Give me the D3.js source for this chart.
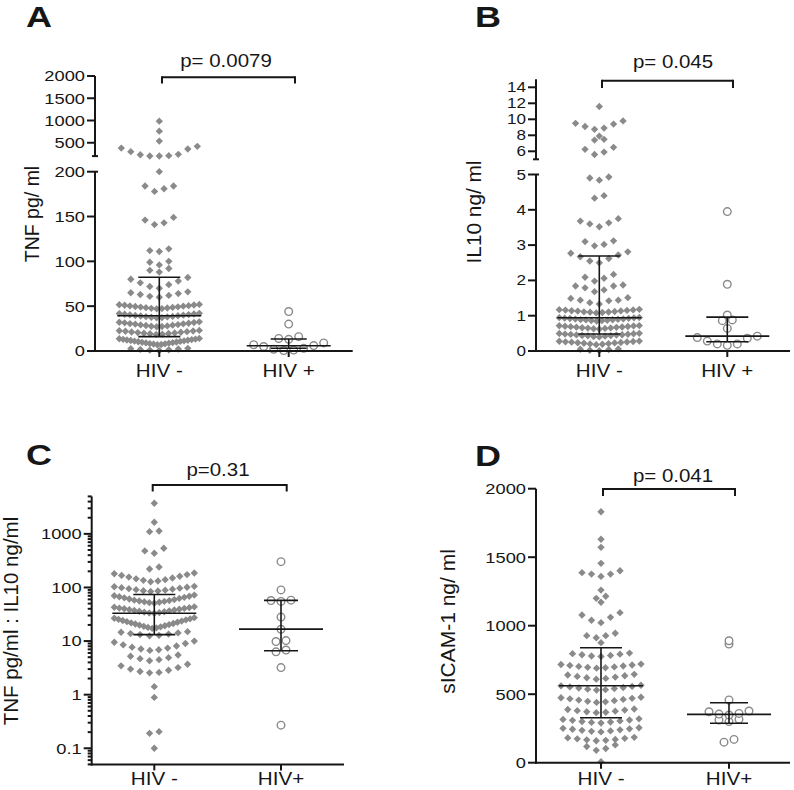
<!DOCTYPE html>
<html><head><meta charset="utf-8">
<script src="https://cdn.jsdelivr.net/npm/d3@7"></script>
<style>body{margin:0;background:#fff}svg{display:block}text{font-family:"Liberation Sans",Arial,sans-serif}</style>
</head><body><svg id="c" width="794" height="790"></svg>
<script>
// ---------------- DATA ----------------
const groupsAB = ["HIV -", "HIV +"];
const groupsCD = ["HIV -", "HIV+"];
const panelLetters = ["A", "B", "C", "D"];
const pLabels = ["p= 0.0079", "p= 0.045", "p=0.31", "p= 0.041"];
const yTitles = ["TNF pg/ ml", "IL10 ng/ ml", "TNF pg/ml : IL10 ng/ml", "sICAM-1 ng/ ml"];

const tnfNeg = [985, 760, 537, 420, 380, 360, 299, 240, 231, 209, 202, 202,
  200, 184, 184, 181, 178, 149, 146, 143, 141, 114, 112, 111, 100, 99, 96, 92, 90, 88,
  82, 80, 78, 76, 74, 72, 70, 66, 65, 64, 63, 62, 61, 60,
  52, 51.6, 51.3, 51, 50.6, 50.3, 50, 49.6, 49.3, 49, 48.6, 48.3, 48, 47.6, 47.3, 47,
  42, 41.7, 41.3, 41, 40.6, 40.3, 40, 39.6, 39.3, 39, 38.6, 38.3, 38, 37.6, 37.3, 37,
  32.5, 32.1, 31.8, 31.4, 31, 30.6, 30.3, 29.9, 29.5, 29.1, 28.8, 28.4, 28, 27.6, 27.3, 27,
  23, 22.6, 22.3, 22, 21.6, 21.2, 20.9, 20.5, 20.2, 19.9, 19.5, 19.2, 18.8, 18.5,
  14, 13.7, 13.3, 13, 12.7, 12.3, 12, 11.7, 11.3, 11, 10.7, 10.3, 10, 9.7, 9.3, 9, 8.7, 8.3, 8, 7.7, 7.3, 7,
  3, 2.6, 2.2, 1.8, 1.4, 1, 0.5];
const tnfPos = [44, 30, 16, 14, 13, 9, 7, 6, 5, 3, 2, 1, 0.5];
const tnfNegIQR = [16, 39.4, 82.3];   // q1, median, q3
const tnfPosIQR = [3, 5.9, 13.4];
const tnfTicksLow = [0, 50, 100, 150, 200];
const tnfTicksHigh = [500, 1000, 1500, 2000];

const il10Neg = [11.6, 9.8, 9.5, 9.4, 9.1, 8.9, 8.75, 7.9, 7.5, 7.4, 6.5, 6.25, 5.9, 5.6,
  4.93, 4.9, 4.84, 4.40, 4.33, 3.75, 3.68, 3.63, 3.6, 3.52, 3.12, 3.1, 3.02, 2.98,
  2.81, 2.77, 2.72, 2.67, 2.62, 2.55, 2.5, 2.17, 2.09, 2.06, 1.98,
  1.87, 1.84, 1.84, 1.79, 1.73, 1.68, 1.51, 1.49, 1.44, 1.44, 1.42, 1.37, 1.33,
  1.18, 1.17, 1.165, 1.16, 1.15, 1.14, 1.135, 1.13, 1.12, 1.11, 1.105, 1.1, 1.09, 1.08,
  0.95, 0.945, 0.94, 0.93, 0.925, 0.92, 0.91, 0.905, 0.9, 0.89, 0.885, 0.88, 0.87, 0.865, 0.86, 0.85,
  0.72, 0.715, 0.71, 0.70, 0.695, 0.69, 0.68, 0.675, 0.67, 0.66, 0.655, 0.65, 0.64, 0.63, 0.62,
  0.50, 0.495, 0.49, 0.48, 0.475, 0.47, 0.46, 0.455, 0.45, 0.44, 0.435, 0.43, 0.42, 0.41, 0.40,
  0.28, 0.275, 0.27, 0.26, 0.255, 0.25, 0.24, 0.235, 0.23, 0.22, 0.21, 0.2, 0.19, 0.18,
  0.06, 0.05, 0.04, 0.02, 0.01];
const il10Pos = [3.95, 1.89, 1.02, 0.88, 0.86, 0.64, 0.42, 0.38, 0.36, 0.28, 0.2, 0.2, 0.16];
const il10NegIQR = [0.48, 0.94, 2.69];
const il10PosIQR = [0.26, 0.42, 0.96];
const il10TicksLow = [0, 1, 2, 3, 4, 5];
const il10TicksHigh = [6, 8, 10, 12, 14];

const ratioNeg = [3720, 1650, 1130, 1100, 540, 480, 435, 241, 221,
  186, 180, 174, 168, 162, 156, 150, 145, 140, 136, 132, 128,
  105, 103, 101, 99, 97, 95, 93, 91, 89, 87, 86, 84,
  72, 70, 68.5, 67, 65.5, 64, 62.5, 61, 59.5, 58, 57, 56, 55, 54, 53, 52, 51,
  43.5, 42.8, 42, 41.3, 40.6, 40, 39.3, 38.6, 38, 37.3, 36.6, 36, 35.3, 34.6, 34, 33.5, 33,
  27.3, 26.6, 26, 25.4, 24.8, 24.2, 23.6, 23, 22.4, 21.8, 21.3, 20.8, 20.3, 19.8, 19.3, 18.8, 18.4, 18, 17.6, 17.3,
  15, 14.6, 14.2, 13.8, 13.5, 13.2, 12.8, 12.5,
  10, 9.5, 9, 8.5, 8.1, 7.7, 7.4, 7.1, 6.9, 6.7,
  5.5, 5.2, 4.9, 4.7, 4.5, 4.3,
  3.7, 3.45, 3.2, 3.0, 2.85, 2.7, 2.6, 2.55,
  1.41, 0.89, 0.204, 0.19, 0.1];
const ratioPos = [303, 90, 58, 57, 55, 28, 16.6, 10.2, 9.8, 6.8, 6.3, 3.2, 0.27];
const ratioNegIQR = [13.2, 33, 74];
const ratioPosIQR = [6.6, 16.7, 57.5];
const ratioTicks = [0.1, 1, 10, 100, 1000];
const ratioTickLabels = ["0.1", "1", "10", "100", "1000"];

const icamNeg = [1832, 1631, 1572, 1455, 1401, 1387, 1377, 1377, 1360, 1260, 1215, 1200, 1171,
  1095, 1078, 1061, 1040, 1022, 945, 927, 927, 912, 876,
  800, 796, 792, 788, 783, 779, 775,
  720, 717, 713, 710, 706, 703, 699, 696, 693, 690,
  645, 640, 635, 630, 625, 620, 615, 610,
  565, 561, 557, 553, 549, 545, 541, 537, 533, 530,
  478, 474, 470, 466, 462, 457, 453, 448, 444, 440,
  392, 388, 384, 380, 376, 372, 368, 365,
  320, 316, 312, 309, 305, 301, 297, 294, 290,
  255, 251, 247, 244, 240, 236, 232, 229, 225,
  185, 181, 178, 174, 170, 167, 163, 160,
  130, 118, 104, 90, 7];
const icamPos = [890, 866, 458, 377, 372, 360, 355, 348, 317, 312, 300, 170, 150];
const icamNegIQR = [328, 562, 839];
const icamPosIQR = [288, 353, 438];
const icamTicks = [0, 500, 1000, 1500, 2000];

// ---------------- HELPERS ----------------
const svg = d3.select("#c");
const INK = "#161616", GRAY = "#8a8a8a";

function brokenScale(lowDom, lowRange, upDom, upRange) {
  const lo = d3.scaleLinear().domain(lowDom).range(lowRange);
  const up = d3.scaleLinear().domain(upDom).range(upRange);
  const f = v => (v <= lowDom[1] ? lo(v) : up(v));
  f.lo = lo; f.up = up;
  return f;
}

function stext(x, y, str, o) {
  return svg.append("text")
    .attr("transform", `translate(${x},${y}) scale(${o.sx || 1},1)`)
    .attr("text-anchor", o.anchor || "start")
    .attr("font-size", o.size)
    .attr("font-weight", o.weight || "normal")
    .attr("fill", INK).text(str);
}
function line(x1, y1, x2, y2, w) {
  svg.append("line").attr("x1", x1).attr("y1", y1).attr("x2", x2).attr("y2", y2)
    .attr("stroke", INK).attr("stroke-width", w || 2).attr("stroke-linecap", "butt");
}

// Prism-like column scatter: bin points by pixel row, spread each row symmetrically
function swarm(values, yScale, cx, o) {
  const pts = values.map(v => ({ v, y: yScale(v) })).sort((a, b) => b.y - a.y);
  const bins = []; let cur = null;
  pts.forEach(p => {
    if (!cur || cur[cur.length - 1].y - p.y > o.gap || cur[0].y - p.y > o.maxSpan) { cur = [p]; bins.push(cur); }
    else cur.push(p);
  });
  bins.forEach(bin => {
    const n = bin.length;
    const step = n > 1 ? Math.min(o.step, 2 * o.halfW / (n - 1)) : 0;
    const offs = d3.range(n).map(i => (i - (n - 1) / 2) * step)
      .sort((a, b) => (Math.abs(a) - Math.abs(b)) || (a - b));
    bin.forEach((p, i) => { p.x = cx + offs[i]; });
  });
  return pts;
}

const diamond = { draw(ctx, size) { const r = Math.sqrt(size / 2); ctx.moveTo(0, -r); ctx.lineTo(r, 0); ctx.lineTo(0, r); ctx.lineTo(-r, 0); ctx.closePath(); } };

function drawPanel(P) {
  const y = P.scale;
  // points
  const neg = swarm(P.neg, y, P.cats[0], { gap: 3, maxSpan: 12, step: 9.5, halfW: 40 });
  svg.append("g").selectAll("path").data(neg).join("path")
    .attr("d", d3.symbol(diamond, 27)).attr("transform", d => `translate(${d.x},${d.y})`)
    .attr("fill", GRAY);
  const pos = swarm(P.pos, y, P.cats[1], { gap: 3, maxSpan: 12, step: 10, halfW: 40 });
  svg.append("g").selectAll("circle").data(pos).join("circle")
    .attr("cx", d => d.x).attr("cy", d => d.y).attr("r", 3.8)
    .attr("fill", "#fff").attr("stroke", GRAY).attr("stroke-width", 1.4);
  // median & IQR
  [[P.negIQR, P.cats[0], 21], [P.posIQR, P.cats[1], P.posCap]].forEach(([q, cx, cap]) => {
    line(cx - 42, y(q[1]), cx + 42, y(q[1]), 1.6);
    line(cx - cap, y(q[0]), cx + cap, y(q[0]), 1.6);
    line(cx - cap, y(q[2]), cx + cap, y(q[2]), 1.6);
    line(cx, y(q[0]), cx, y(q[2]), 1.6);
  });
  // x axis
  line(P.ax - 1, P.y0, P.xEnd, P.y0, 2);
  P.cats.forEach((cx, i) => {
    line(cx, P.y0, cx, P.y0 + 6, 2);
    stext(cx, P.catBase, P.groups[i], { size: P.catSize, sx: 1.18, anchor: "middle" });
  });
  // y axis
  const tick = (v, len, label) => {
    const yy = y(v);
    line(P.ax - len, yy, P.ax, yy, 2);
    if (label != null) stext(P.ax - 10, yy + P.tickSize * 0.36, label, { size: P.tickSize, sx: P.tickSx, anchor: "end" });
  };
  if (P.kind === "broken") {
    line(P.ax, y.lo.range()[0] + 1, P.ax, y.lo.range()[1], 2);
    line(P.ax, y.lo.range()[1], P.ax + 3, y.lo.range()[1], 2);
    line(P.ax, y.up.range()[0], P.ax, y.up.range()[1], 2);
    line(P.ax - 3, y.up.range()[0], P.ax + 3, y.up.range()[0], 2);
    P.ticksLow.forEach(v => tick(v, 8, String(v)));
    P.ticksHigh.forEach(v => tick(v, 8, String(v)));
  } else if (P.kind === "log") {
    const [d0, d1] = y.domain();
    line(P.ax, y(d0) + 1, P.ax, y(d1), 2);
    for (let e = -2; e <= 3; e++) for (let k = 2; k <= 9; k++) {
      const v = k * Math.pow(10, e);
      if (v >= d0 * 0.999 && v <= d1 * 1.001) tick(v, 4, null);
    }
    P.ticks.forEach((v, i) => tick(v, 8, P.tickLabels[i]));
  } else {
    const [d0, d1] = y.domain();
    line(P.ax, y(d0) + 1, P.ax, y(d1), 2);
    P.ticks.forEach(v => tick(v, 8, String(v)));
  }
  // y title
  svg.append("text").attr("transform", `translate(${P.titleX},${P.titleY}) rotate(-90)`)
    .attr("text-anchor", "middle").attr("font-size", P.titleSize).attr("fill", INK).text(P.title);
  // panel letter
  stext(P.letterX, P.letterY, P.letter, { size: 30, weight: "bold", sx: 1.2 });
  // p-value bracket
  const b = P.bracket;
  line(b[0], b[2], b[1], b[2], 2);
  line(b[0], b[2] - 1, b[0], b[3], 2);
  line(b[1], b[2] - 1, b[1], b[3], 2);
  stext(P.pX, P.pY, P.p, { size: 18.6, sx: 1.1, anchor: "middle" });
}

const panels = [
  { kind: "broken", neg: tnfNeg, pos: tnfPos, negIQR: tnfNegIQR, posIQR: tnfPosIQR, posCap: 18,
    scale: brokenScale([0, 200], [351, 171.7], [200, 2000], [156.1, 76]),
    ticksLow: tnfTicksLow, ticksHigh: tnfTicksHigh, tickSize: 15, tickSx: 1.22,
    ax: 95, xEnd: 352.7, y0: 351, cats: [159.3, 288.7], groups: groupsAB, catBase: 377, catSize: 17.5,
    title: yTitles[0], titleX: 39, titleY: 214, titleSize: 19.5,
    letter: panelLetters[0], letterX: 26, letterY: 27,
    bracket: [162, 295, 77.3, 83.5], p: pLabels[0], pX: 226, pY: 66.7 },
  { kind: "broken", neg: il10Neg, pos: il10Pos, negIQR: il10NegIQR, posIQR: il10PosIQR, posCap: 21,
    scale: brokenScale([0, 5], [351, 174.5], [5, 15], [159.3, 79.3]),
    ticksLow: il10TicksLow, ticksHigh: il10TicksHigh, tickSize: 14, tickSx: 1.22,
    ax: 536, xEnd: 790, y0: 351, cats: [599.3, 727.3], groups: groupsAB, catBase: 377, catSize: 17.5,
    title: yTitles[1], titleX: 481, titleY: 212, titleSize: 20.8,
    letter: panelLetters[1], letterX: 475, letterY: 27,
    bracket: [602, 733, 80.7, 88], p: pLabels[1], pX: 673, pY: 68.3 },
  { kind: "log", neg: ratioNeg, pos: ratioPos, negIQR: ratioNegIQR, posIQR: ratioPosIQR, posCap: 17,
    scale: d3.scaleLog().domain([0.05, 5000]).range([764.4, 496.4]),
    ticks: ratioTicks, tickLabels: ratioTickLabels, tickSize: 15, tickSx: 1.22,
    ax: 91.7, xEnd: 344, y0: 764.4, cats: [154.3, 281], groups: groupsCD, catBase: 785, catSize: 17.5,
    title: yTitles[2], titleX: 18, titleY: 621, titleSize: 20.5,
    letter: panelLetters[2], letterX: 26, letterY: 465,
    bracket: [152.7, 286.7, 485, 491.5], p: pLabels[2], pX: 218, pY: 475.7 },
  { kind: "linear", neg: icamNeg, pos: icamPos, negIQR: icamNegIQR, posIQR: icamPosIQR, posCap: 19,
    scale: d3.scaleLinear().domain([0, 2000]).range([762.7, 488.7]),
    ticks: icamTicks, tickSize: 15, tickSx: 1.22,
    ax: 536, xEnd: 790, y0: 762.7, cats: [601, 729], groups: groupsCD, catBase: 785, catSize: 17.5,
    title: yTitles[3], titleX: 455, titleY: 621.5, titleSize: 21,
    letter: panelLetters[3], letterX: 475, letterY: 466,
    bracket: [603, 735, 489, 496], p: pLabels[3], pX: 673, pY: 481.7 }
];
panels.forEach(drawPanel);
</script></body></html>
